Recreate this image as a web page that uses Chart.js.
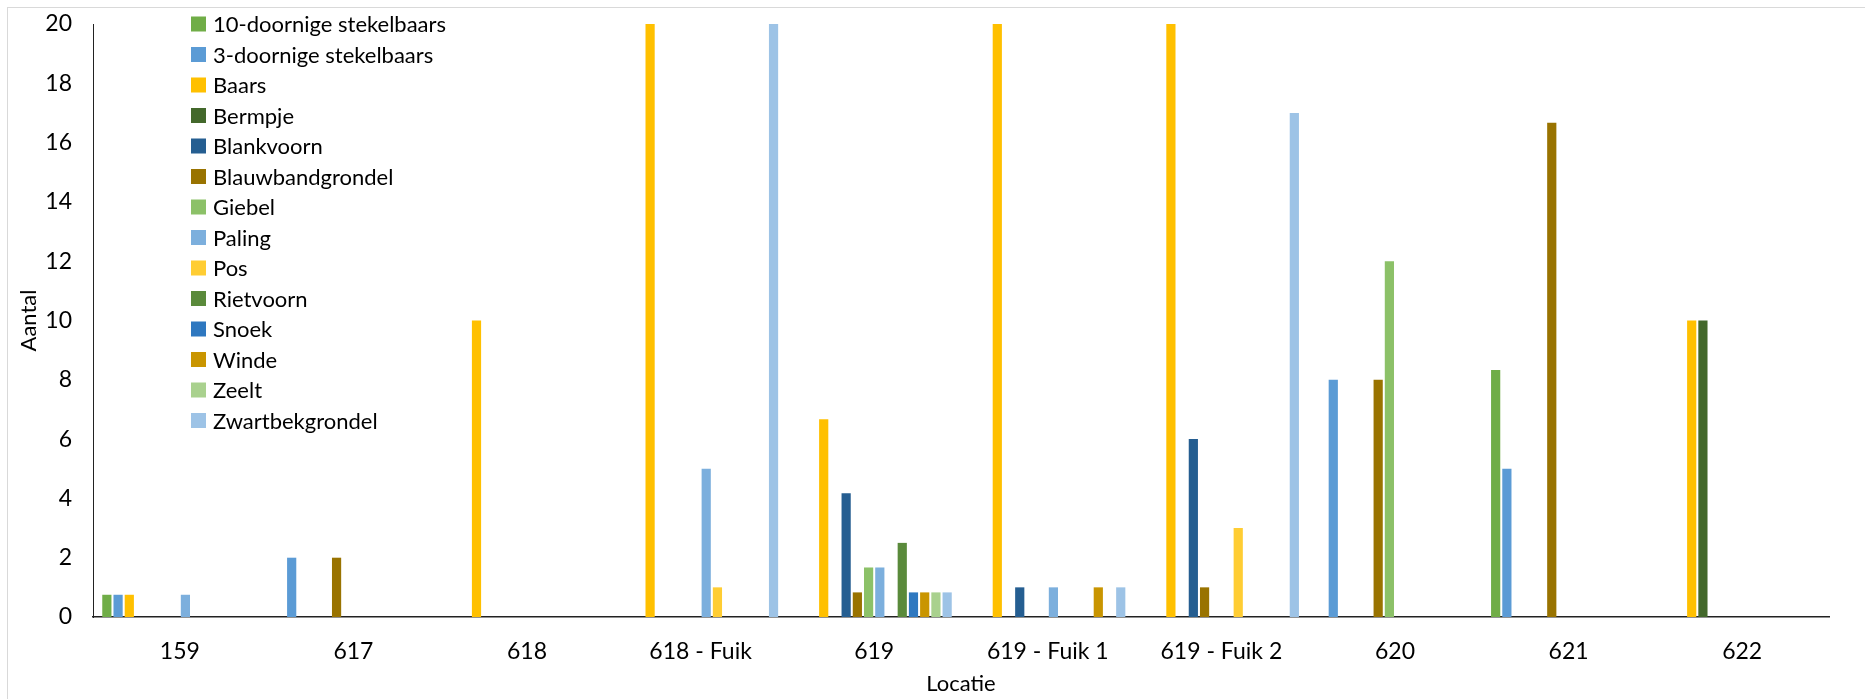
<!DOCTYPE html>
<html>
<head>
<meta charset="utf-8">
<script src="https://cdn.jsdelivr.net/npm/chart.js@4.4.0/dist/chart.umd.min.js"></script>
<style>
  html, body { margin: 0; padding: 0; background: #fff; overflow: hidden; }
  #wrap { position: relative; width: 1865px; height: 699px; }
</style>
</head>
<body>
<div id="wrap"><canvas id="fishChart" width="1865" height="699"></canvas></div>
<script>
// Locaties en gemiddeld aantal per soort
const locaties = ["159", "617", "618", "618 - Fuik", "619", "619 - Fuik 1", "619 - Fuik 2", "620", "621", "622"];

const tienDoornig = [0.75, 0, 0, 0, 0, 0, 0, 0, 8.33, 0];
const drieDoornig = [0.75, 2, 0, 0, 0, 0, 0, 8, 5, 0];
const baars = [0.75, 0, 10, 20, 6.67, 20, 20, 0, 0, 10];
const bermpje = [0, 0, 0, 0, 0, 0, 0, 0, 0, 10];
const blankvoorn = [0, 0, 0, 0, 4.17, 1, 6, 0, 0, 0];
const blauwband = [0, 2, 0, 0, 0.83, 0, 1, 8, 16.67, 0];
const giebel = [0, 0, 0, 0, 1.67, 0, 0, 12, 0, 0];
const paling = [0.75, 0, 0, 5, 1.67, 1, 0, 0, 0, 0];
const pos = [0, 0, 0, 1, 0, 0, 3, 0, 0, 0];
const rietvoorn = [0, 0, 0, 0, 2.5, 0, 0, 0, 0, 0];
const snoek = [0, 0, 0, 0, 0.83, 0, 0, 0, 0, 0];
const winde = [0, 0, 0, 0, 0.83, 1, 0, 0, 0, 0];
const zeelt = [0, 0, 0, 0, 0.83, 0, 0, 0, 0, 0];
const zwartbek = [0, 0, 0, 20, 0.83, 1, 17, 0, 0, 0];

const soorten = ["10-doornige stekelbaars", "3-doornige stekelbaars", "Baars", "Bermpje", "Blankvoorn",
  "Blauwbandgrondel", "Giebel", "Paling", "Pos", "Rietvoorn", "Snoek", "Winde", "Zeelt", "Zwartbekgrondel"];
const reeksen = [tienDoornig, drieDoornig, baars, bermpje, blankvoorn, blauwband, giebel,
  paling, pos, rietvoorn, snoek, winde, zeelt, zwartbek];
const kleuren = ["#70AD47", "#5B9BD5", "#FFC000", "#43682B", "#255E91", "#997300", "#8CC168",
  "#7CAFDD", "#FFCD33", "#5A8A3B", "#2E78C0", "#C99500", "#A9D18E", "#9DC3E6"];

const FONT = "Lato";

// legend inside plot + outer chart border
const extras = {
  id: "extras",
  afterDraw(chart) {
    const ctx = chart.ctx;
    ctx.save();
    ctx.strokeStyle = "#d9d9d9";
    ctx.lineWidth = 1;
    ctx.strokeRect(7.5, 7.5, 2000, 2000);
    ctx.font = "22px " + FONT;
    ctx.textBaseline = "middle";
    chart.data.datasets.forEach((ds, i) => {
      const y = 24 + i * 30.5;
      ctx.fillStyle = ds.backgroundColor;
      ctx.fillRect(191, y - 7.5, 15, 15);
      ctx.fillStyle = "#000";
      ctx.fillText(ds.label, 213, y + 1);
    });
    ctx.restore();
  }
};

new Chart(document.getElementById("fishChart"), {
  type: "bar",
  data: {
    labels: locaties,
    datasets: soorten.map((s, i) => ({
      label: s,
      data: reeksen[i],
      backgroundColor: kleuren[i],
      borderWidth: 0,
      categoryPercentage: 0.905,
      barPercentage: 0.82
    }))
  },
  options: {
    responsive: false,
    animation: false,
    devicePixelRatio: 1,
    layout: { padding: { top: 24, right: 36, left: 0, bottom: 0 } },
    plugins: { legend: { display: false }, tooltip: { enabled: false } },
    scales: {
      x: {
        grid: { display: false, drawTicks: false },
        border: { display: true, color: "#222", width: 1.5 },
        ticks: { color: "#000", font: { family: FONT, size: 23 }, padding: 21, maxRotation: 0, autoSkip: false },
        title: { display: true, text: "Locatie", color: "#000", font: { family: FONT, size: 22 }, padding: 2 },
        afterFit(scale) { scale.height = 82; }
      },
      y: {
        min: 0,
        max: 20,
        grid: { display: false, drawTicks: false },
        border: { display: true, color: "#222", width: 1 },
        ticks: { stepSize: 2, color: "#000", font: { family: FONT, size: 23 }, padding: 21 },
        title: { display: true, text: "Aantal", color: "#000", font: { family: FONT, size: 22 }, padding: 16 },
        afterFit(scale) {
          scale.width = 93;
          scale.paddingTop = 0;
          scale.paddingBottom = 0;
        }
      }
    }
  },
  plugins: [extras]
});
</script>
</body>
</html>
